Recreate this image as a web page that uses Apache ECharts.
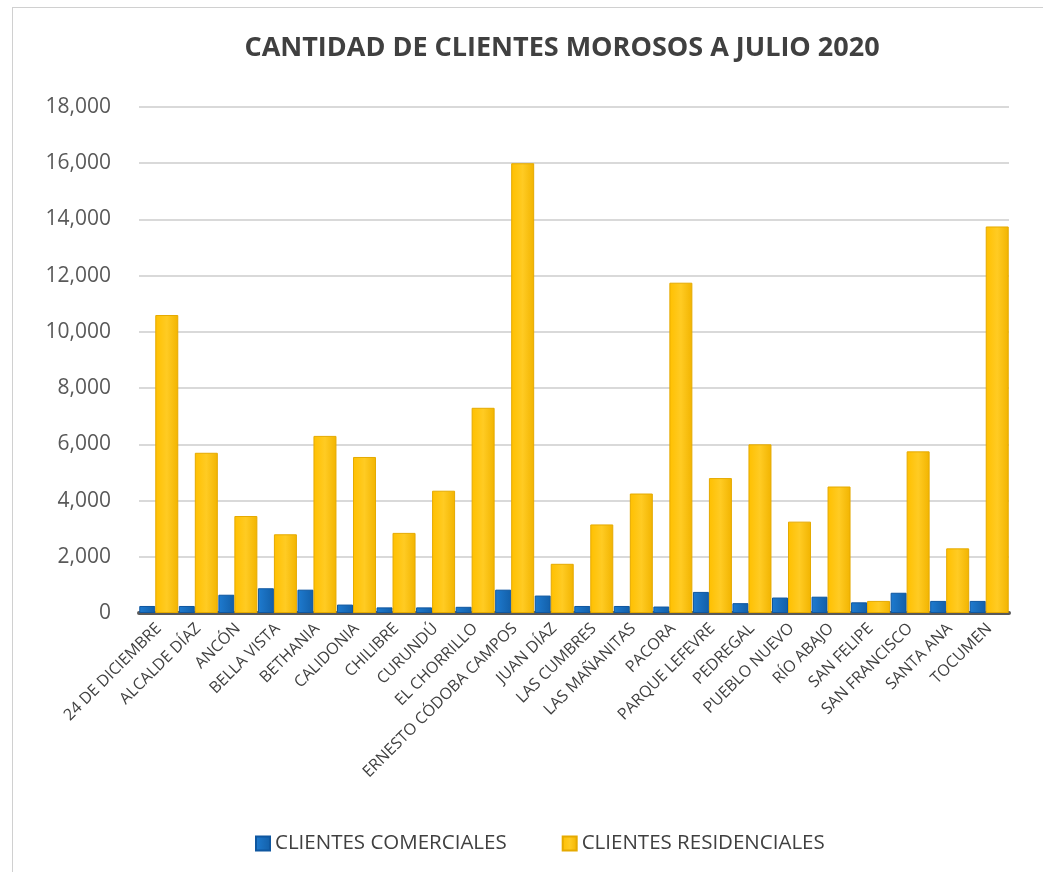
<!DOCTYPE html>
<html>
<head>
<meta charset="utf-8">
<script src="https://cdn.jsdelivr.net/npm/echarts@6/dist/echarts.min.js"></script>
<style>
  html, body { margin: 0; padding: 0; background: #fff; }
  #chart { width: 1043px; height: 872px; }
  #frame { position: absolute; left: 12px; top: 7px; width: 1100px; height: 900px; border: 1px solid #d0d0d0; pointer-events: none; }
</style>
</head>
<body>
<div id="frame"></div>
<div id="chart"></div>
<script>
const categories = [
  "24 DE DICIEMBRE", "ALCALDE DÍAZ", "ANCÓN", "BELLA VISTA", "BETHANIA", "CALIDONIA",
  "CHILIBRE", "CURUNDÚ", "EL CHORRILLO", "ERNESTO CÓDOBA CAMPOS", "JUAN DÍAZ", "LAS CUMBRES",
  "LAS MAÑANITAS", "PACORA", "PARQUE LEFEVRE", "PEDREGAL", "PUEBLO NUEVO", "RÍO ABAJO",
  "SAN FELIPE", "SAN FRANCISCO", "SANTA ANA", "TOCUMEN"
];
const comerciales = [250, 250, 650, 880, 830, 300, 200, 200, 220, 830, 620, 250,
  250, 230, 750, 350, 550, 580, 380, 720, 430, 430];
const residenciales = [10600, 5700, 3450, 2800, 6300, 5550, 2850, 4350, 7300, 16000, 1750, 3150,
  4250, 11750, 4800, 6000, 3250, 4500, 430, 5750, 2300, 13750];
const yTicks = { min: 0, max: 18000, step: 2000 };

const chart = echarts.init(document.getElementById("chart"));
const font = "'Open Sans', 'DejaVu Sans', sans-serif";

chart.setOption({
  backgroundColor: "transparent",
  animation: false,
  title: {
    text: "CANTIDAD DE CLIENTES MOROSOS A JULIO 2020",
    left: 557,
    top: 30,
    textAlign: "center",
    textStyle: {
      fontFamily: font,
      fontWeight: "bold",
      fontSize: 27,
      color: "#404040"
    }
  },
  legend: {
    data: ["CLIENTES COMERCIALES", "CLIENTES RESIDENCIALES"],
    left: 250,
    top: 828,
    itemWidth: 14,
    itemHeight: 14,
    itemGap: 55,
    icon: "rect",
    textStyle: { fontFamily: font, fontSize: 20.5, color: "#404040" }
  },
  grid: { left: 139, right: 34, top: 107, bottom: 259 },
  xAxis: {
    type: "category",
    data: categories,
    axisTick: { show: false },
    axisLine: { lineStyle: { color: "#595959", width: 4 } },
    axisLabel: {
      interval: 0,
      rotate: 45,
      margin: 13,
      fontFamily: font,
      fontSize: 16,
      color: "#404040"
    }
  },
  yAxis: {
    type: "value",
    min: yTicks.min,
    max: yTicks.max,
    interval: yTicks.step,
    axisLine: { show: false },
    axisTick: { show: false },
    axisLabel: {
      margin: 28,
      fontFamily: font,
      fontSize: 21,
      color: "#595959",
      formatter: v => v.toLocaleString("en-US")
    },
    splitLine: { lineStyle: { color: "#d9d9d9", width: 2 } }
  },
  series: [
    {
      name: "CLIENTES COMERCIALES",
      type: "bar",
      data: comerciales,
      barWidth: 16,
      barGap: "0%",
      itemStyle: {
        color: new echarts.graphic.LinearGradient(0, 0, 1, 0, [
          { offset: 0, color: "#1E7BD0" },
          { offset: 1, color: "#135FA8" }
        ]),
        borderColor: "#0F57A0",
        borderWidth: 1
      }
    },
    {
      name: "CLIENTES RESIDENCIALES",
      type: "bar",
      data: residenciales,
      barWidth: 23,
      itemStyle: {
        color: new echarts.graphic.LinearGradient(0, 0, 1, 0, [
          { offset: 0, color: "#FFC000" },
          { offset: 0.5, color: "#FFCB23" },
          { offset: 1, color: "#F2B400" }
        ]),
        borderColor: "#E5AA00",
        borderWidth: 1
      }
    }
  ]
});
</script>
</body>
</html>
